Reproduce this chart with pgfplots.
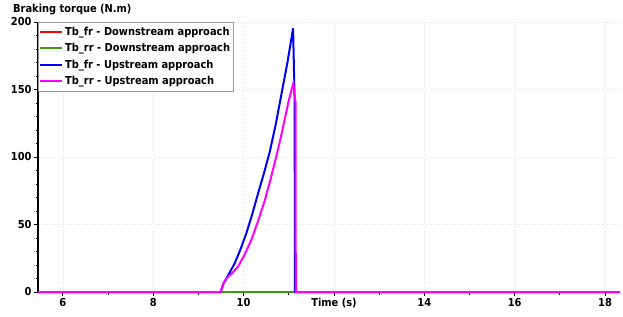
\documentclass[border=0pt]{standalone}
\usepackage{pgfplots}
\pgfplotsset{compat=1.18}
\usepackage{fontspec}
\setmainfont{DejaVu Sans Condensed}
\definecolor{cgreen}{rgb}{0.25,0.6,0.05}
\definecolor{cred}{rgb}{1,0,0}
\definecolor{cblue}{rgb}{0,0,1}
\definecolor{cmag}{rgb}{1,0,1}
\newcommand{\lblfont}{\bfseries\fontsize{11}{12}\selectfont}
\begin{document}
\begin{tikzpicture}[x=1bp,y=1bp]
\useasboundingbox (0,0) rectangle (623,316);
\node[anchor=west,font=\lblfont,inner sep=0pt] at (13,306) {Braking torque (N.m)};
\begin{axis}[at={(38bp,24bp)}, anchor=south west, scale only axis,
  width=582bp, height=270bp,
  xmin=5.45, xmax=18.33, ymin=0, ymax=200,
  axis x line=bottom, axis y line=left,
  axis line style={black, line width=1.6pt, -},
  xtick={6,8,...,18}, xticklabels={6,8,10,,14,16,18},
  minor x tick num=1,
  ytick={0,50,...,200}, minor y tick num=4,
  tick align=outside, major tick length=4bp, minor tick length=2.5bp,
  tick style={black, line width=0.9pt},
  grid=major, grid style={dash pattern=on 2bp off 2bp, gray!18, line width=0.5pt},
  tick label style={font=\lblfont},
  xticklabel style={yshift=1bp},
  yticklabel style={xshift=1bp},
  /pgf/number format/assume math mode=true,
  legend style={at={(0,1)}, anchor=north west, draw=gray!80, fill=white,
    font=\lblfont, row sep=2.5bp, inner xsep=1bp, inner ysep=3bp},
  legend cell align=left,
  legend image code/.code={\draw[#1, line width=2bp] (0bp,0bp) -- (22bp,0bp);},
  every axis plot/.append style={line width=2bp},
  clip=false,
]
\addplot[cred] coordinates {(5.45,0) (18.33,0)};
\addlegendentry{Tb\_fr - Downstream approach}
\addplot[cgreen] coordinates {(5.45,0) (18.33,0)};
\addlegendentry{Tb\_rr - Downstream approach}
\addplot[cblue] coordinates {(5.45,0)(9.49,0)(9.55,6)(9.62,10)(9.7,15)(9.8,21)(9.93,31.5)(10.06,43.5)(10.19,57.5)(10.32,73)(10.45,88)(10.58,104)(10.71,124)(10.84,147)(10.97,170)(11.095,195.3)(11.13,140)(11.135,0)(18.33,0)};
\addlegendentry{Tb\_fr - Upstream approach}
\addplot[cmag] coordinates {(5.45,0)(9.49,0)(9.55,6)(9.62,10)(9.75,14)(9.88,19)(10.02,27.5)(10.17,38.5)(10.32,52.5)(10.47,68)(10.6,84)(10.72,100)(10.82,114)(10.91,128)(11.0,142)(11.1,154.6)(11.15,140)(11.155,0)(18.33,0)};
\addlegendentry{Tb\_rr - Upstream approach}
\node[anchor=north, font=\lblfont] at (axis cs:12,0) [yshift=-3bp] {Time (s)};
\end{axis}
\end{tikzpicture}
\end{document}
